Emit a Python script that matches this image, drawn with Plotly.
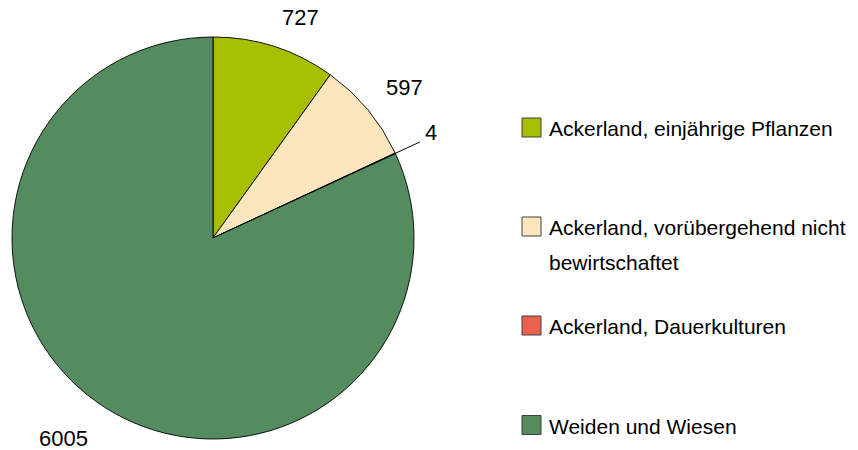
import math
import plotly.graph_objects as go

W, H = 858, 450

categories = [
    "Ackerland, einjährige Pflanzen",
    "Ackerland, vorübergehend nicht bewirtschaftet",
    "Ackerland, Dauerkulturen",
    "Weiden und Wiesen",
]
legend_lines = [
    ["Ackerland, einjährige Pflanzen"],
    ["Ackerland, vorübergehend nicht", "bewirtschaftet"],
    ["Ackerland, Dauerkulturen"],
    ["Weiden und Wiesen"],
]
values = [727, 597, 4, 6005]
value_labels = ["727", "597", "4", "6005"]
colors = ["#A8BE00", "#FDE6BD", "#EB6150", "#548B5F"]
leader = [False, False, True, False]

FONT = "Liberation Sans, Arial, sans-serif"

# pie geometry (pixels, from top-left)
CX, CY, R = 213, 238, 201

fig = go.Figure()
fig.add_trace(go.Pie(
    labels=categories,
    values=values,
    textinfo="none",
    marker=dict(colors=colors, line=dict(color="#000000", width=0.9)),
    sort=False,
    direction="clockwise",
    rotation=0,
    showlegend=False,
    domain=dict(x=[(CX - R) / W, (CX + R) / W], y=[1 - (CY + R) / H, 1 - (CY - R) / H]),
    hoverinfo="label+value",
))

shapes = []
annotations = []

# value labels placed outside each slice along its mid-angle
total = float(sum(values))
cum = 0.0
for v, txt, has_leader in zip(values, value_labels, leader):
    mid = (cum + v / 2.0) / total * 2 * math.pi
    cum += v
    s, c = math.sin(mid), math.cos(mid)
    r_lab = R * (1.165 if has_leader else 1.115)
    px = CX + r_lab * s
    py = CY - r_lab * c
    xa = "left" if s >= 0 else "right"
    ya = "bottom" if c >= 0 else "top"
    annotations.append(dict(
        xref="paper", yref="paper", x=px / W, y=1 - py / H,
        xanchor=xa, yanchor=ya, text=txt, showarrow=False,
        borderpad=0,
        xshift=-1 if xa == "left" else -3,
        yshift=-6.5 if ya == "bottom" else 1.5,
        font=dict(family=FONT, size=22, color="#000000"),
    ))
    if has_leader:
        r0, r1 = R, R * 1.135
        shapes.append(dict(
            type="line", xref="paper", yref="paper",
            x0=(CX + r0 * s) / W, y0=1 - (CY - r0 * c) / H,
            x1=(CX + r1 * s) / W, y1=1 - (CY - r1 * c) / H,
            line=dict(color="#000000", width=1),
        ))

# manual legend
item_y = [127.5, 226.5, 325.5, 425]
box_x0, box_x1 = 522, 541
for i, (lines, col) in enumerate(zip(legend_lines, colors)):
    yc = item_y[i]
    shapes.append(dict(
        type="rect", xref="paper", yref="paper",
        x0=box_x0 / W, x1=box_x1 / W,
        y0=1 - (yc + 9.5) / H, y1=1 - (yc - 9.5) / H,
        fillcolor=col, line=dict(color="#404040", width=1),
    ))
    for j, line in enumerate(lines):
        annotations.append(dict(
            xref="paper", yref="paper",
            x=548 / W, y=1 - (yc + 1 + j * 35) / H,
            xanchor="left", yanchor="middle",
            text=line, showarrow=False, borderpad=0,
            font=dict(family=FONT, size=21, color="#000000"),
        ))

fig.update_layout(
    width=W, height=H,
    margin=dict(l=0, r=0, t=0, b=0),
    paper_bgcolor="#ffffff",
    plot_bgcolor="#ffffff",
    shapes=shapes,
    annotations=annotations,
    font=dict(family=FONT),
)

fig.write_html(
    "out.html",
    config={"displayModeBar": False},
    post_script="document.body.style.margin='0';",
)
